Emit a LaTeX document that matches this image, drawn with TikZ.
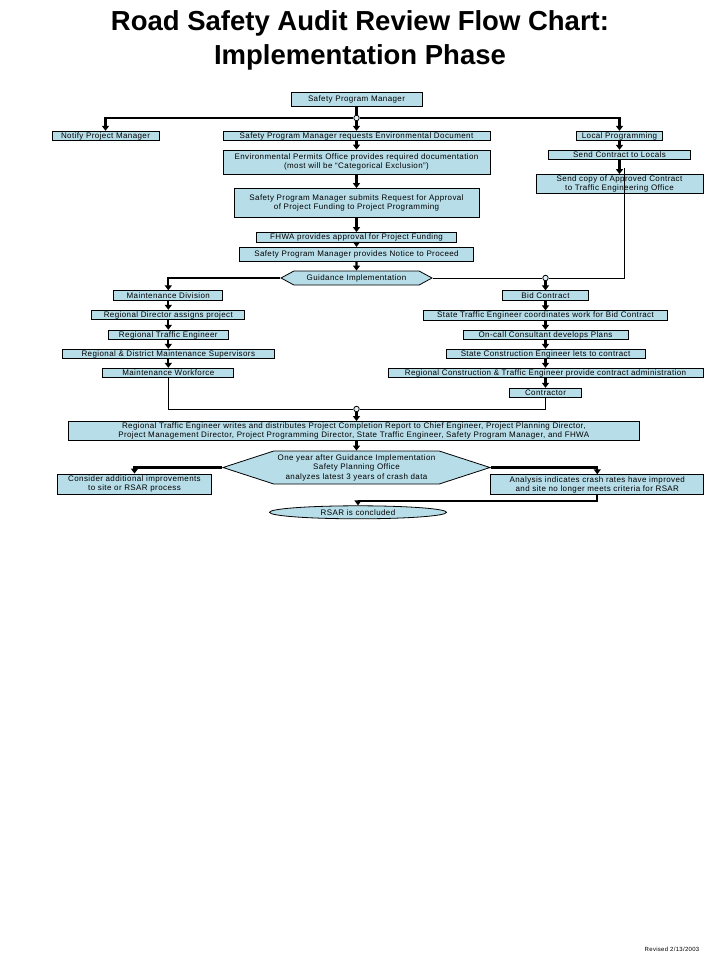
\documentclass[tikz,border=0pt]{standalone}
\usepackage{fontspec}
\setmainfont{Liberation Sans}
\newfontfamily\boxfont[LetterSpace=5]{Liberation Sans}
\usetikzlibrary{positioning,shapes.geometric,shapes.symbols,arrows.meta}
\definecolor{boxblue}{RGB}{183,221,232}

\begin{document}
\begin{tikzpicture}[x=1pt,y=1pt]
    \tikzstyle{every node}=[inner sep=0]
    \tikzstyle{stepbox}=[draw,fill=boxblue,rectangle,line width=0.8,minimum height=9.5,align=center,font=\boxfont\fontsize{8}{9.5}\selectfont]
    \tikzstyle{decision}=[stepbox,signal,signal to=east and west]
    \tikzstyle{endstate}=[stepbox,ellipse]
    \tikzstyle{junction}=[draw,circle,fill=boxblue!40,line width=0.8,minimum size=5.5]
    \tikzstyle{flow}=[line width=2.2,-{Triangle[width=7pt,length=5pt]}]
    \tikzstyle{feed}=[line width=1]
    {
        \useasboundingbox (0,0) rectangle (719,-959);

        \node[font=\bfseries\fontsize{27.5}{34}\selectfont,align=center] (title) at (360,-40)
            {Road Safety Audit Review Flow Chart:\\Implementation Phase};

        % top of the chart
        \node[stepbox,minimum width=131,minimum height=14] (spm) at (356.5,-99) {Safety Program Manager};
        \node[junction] (j1) at (356.5,-118) {};
        \node[stepbox,minimum width=107] (notify) at (105.5,-136) {Notify Project Manager};
        \node[stepbox,minimum width=267] (envreq) at (356.5,-136) {Safety Program Manager requests Environmental Document};
        \node[stepbox,minimum width=267,minimum height=24] (envpermit) at (356.5,-162)
            {Environmental Permits Office provides required documentation\\(most will be “Categorical Exclusion”)};
        \node[stepbox,minimum width=245,minimum height=29] (funding) at (356.5,-203)
            {Safety Program Manager submits Request for Approval\\of Project Funding to Project Programming};
        \node[stepbox,minimum width=200,minimum height=10] (fhwa) at (356.5,-237.5) {FHWA provides approval for Project Funding};
        \node[stepbox,minimum width=234,minimum height=14] (notice) at (356.5,-254.3) {Safety Program Manager provides Notice to Proceed};
        \node[decision,minimum width=151,minimum height=14,signal pointer angle=57] (guidance) at (356.5,-278) {Guidance Implementation};

        % local programming
        \node[stepbox,minimum width=86] (localprog) at (619.5,-136) {Local Programming};
        \node[stepbox,minimum width=142] (locals) at (619.5,-155) {Send Contract to Locals};
        \node[stepbox,minimum width=167,minimum height=19] (sendcopy) at (619.5,-184)
            {Send copy of Approved Contract\\to Traffic Engineering Office};
        \coordinate (feedtop) at (624,-168);

        % maintenance side
        \node[stepbox,minimum width=109] (maint) at (168.3,-295.5) {Maintenance Division};
        \node[stepbox,minimum width=153] (regdir) at (168.3,-315) {Regional Director assigns project};
        \node[stepbox,minimum width=120] (regtraffic) at (168.3,-335) {Regional Traffic Engineer};
        \node[stepbox,minimum width=212] (supervisors) at (168.3,-354) {Regional \& District Maintenance Supervisors};
        \node[stepbox,minimum width=131] (workforce) at (168.3,-373) {Maintenance Workforce};

        % contract side
        \node[junction] (j2) at (545.5,-278) {};
        \node[stepbox,minimum width=86] (bid) at (545.5,-295.5) {Bid Contract};
        \node[stepbox,minimum width=244] (stecoord) at (545.5,-315.5) {State Traffic Engineer coordinates work for Bid Contract};
        \node[stepbox,minimum width=165] (oncall) at (545.5,-335) {On-call Consultant develops Plans};
        \node[stepbox,minimum width=199] (stateconst) at (545.5,-354) {State Construction Engineer lets to contract};
        \node[stepbox,minimum width=315] (regconst) at (545.5,-373) {Regional Construction \& Traffic Engineer provide contract administration};
        \node[stepbox,minimum width=72] (contractor) at (545.5,-393) {Contractor};

        % review
        \node[junction] (j3) at (356.5,-409) {};
        \node[stepbox,minimum width=571,minimum height=19] (report) at (353.8,-431)
            {Regional Traffic Engineer writes and distributes Project Completion Report to Chief Engineer, Project Planning Director,\\
             Project Management Director, Project Programming Director, State Traffic Engineer, Safety Program Manager, and FHWA};
        \node[decision,minimum width=267,minimum height=33,signal pointer angle=36] (oneyear) at (356.5,-467.5)
            {One year after Guidance Implementation\\Safety Planning Office\\analyzes latest 3 years of crash data};
        \node[stepbox,minimum width=154,minimum height=20] (consider) at (134.5,-484)
            {Consider additional improvements\\to site or RSAR process};
        \node[stepbox,minimum width=213,minimum height=20] (analysis) at (597.3,-484.7)
            {Analysis indicates crash rates have improved\\and site no longer meets criteria for RSAR};
        \node[endstate,minimum width=177,minimum height=13] (rsar) at (358,-512.3) {RSAR is concluded};

        \node[font=\boxfont\fontsize{6}{7}\selectfont] (revised) at (672,-949.5) {Revised 2/13/2003};

        \draw[line width=2.2] (spm) -- (j1);
        \draw[flow] (j1) -| (notify);
        \draw[flow] (j1) -| (localprog);

        \path[flow]
            (j1) edge (envreq)
            (envreq) edge (envpermit)
            (envpermit) edge (funding)
            (funding) edge (fhwa)
            (fhwa) edge (notice)
            (notice) edge (guidance)
            (localprog) edge (locals)
            (locals) edge (sendcopy)
            (j2) edge (bid);

        \draw[feed] (feedtop) |- (j2);
        \draw[feed] (guidance.east) -- (j2);
        \draw[flow] (guidance.west) -| (maint);

        \path[flow]
            (maint) edge (regdir)
            (regdir) edge (regtraffic)
            (regtraffic) edge (supervisors)
            (supervisors) edge (workforce)
            (bid) edge (stecoord)
            (stecoord) edge (oncall)
            (oncall) edge (stateconst)
            (stateconst) edge (regconst)
            (regconst) edge (contractor);

        \draw[feed] (workforce) |- (j3);
        \draw[feed] (contractor) |- (j3);
        \draw[flow] (j3) -- (j3 |- report.north);
        \draw[flow] (j3 |- report.south) -- (j3 |- oneyear.north);
        \draw[flow] (oneyear.west) -| (consider);
        \draw[flow] (oneyear.east) -| (analysis);
        \draw[flow] (analysis.south) -- ++(0,-6) -| (rsar.north);
    }
\end{tikzpicture}
\end{document}
